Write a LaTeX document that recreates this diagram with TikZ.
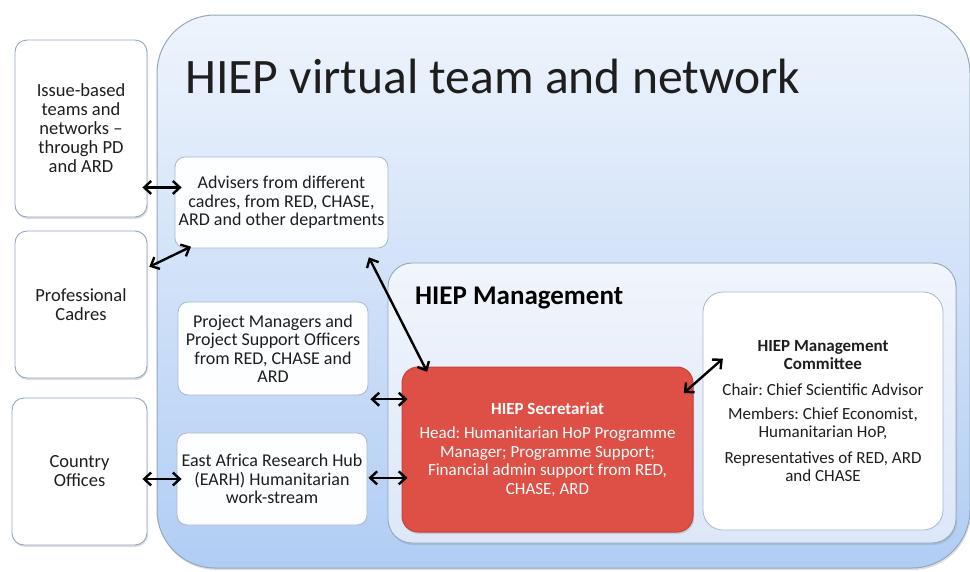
\documentclass[tikz,border=0pt]{standalone}
\usepackage{fontspec}
\setmainfont{Carlito}
\usetikzlibrary{arrows.meta,shadows}
\frenchspacing

\definecolor{netblue}{HTML}{B1CDF4}
\definecolor{netpale}{HTML}{EEF4FC}
\definecolor{mgmtpale}{HTML}{F1F5FC}
\definecolor{mgmtblue}{HTML}{DCE7F8}
\definecolor{secred}{HTML}{DE4F45}
\definecolor{secedge}{HTML}{C3433B}
\definecolor{boxedge}{HTML}{93A6C0}
\definecolor{inktext}{HTML}{1E1E1E}

\newcommand{\hiephead}[1]{{\bfseries\fontsize{17}{18}\selectfont #1}}

\tikzset{
  softshadow/.style={drop shadow={opacity=0.25,shadow xshift=1pt,shadow yshift=-2pt}},
  sidebox/.style={draw=boxedge,fill=white,rounded corners=12pt,line width=0.9pt,
    align=center,inner sep=0pt,text=inktext,font=\fontsize{18.5}{19}\selectfont,softshadow},
  teambox/.style={draw=boxedge!80,fill=white!88!netpale,rounded corners=10pt,line width=0.8pt,
    align=center,inner sep=0pt,text=inktext,font=\fontsize{18}{18.5}\selectfont},
  dbl/.style={{Straight Barb[length=7pt,width=13pt]}-{Straight Barb[length=7pt,width=13pt]},
    line width=2.4pt,black},
}

\begin{document}
\begin{tikzpicture}[x=1pt,y=-1pt]
  \useasboundingbox (0,0) rectangle (970,571);
  % virtual team and network
  \node (vteam) at (563.5,291.5) [draw=boxedge,line width=1pt,rounded corners=58pt,
    top color=netpale,bottom color=netblue,minimum width=813pt,minimum height=553pt,
    inner sep=0pt,softshadow] {};
  \node (vtitle) at (185,93) [anchor=base west,inner sep=0pt,text=inktext,
    font=\fontsize{49.6}{56}\selectfont] {HIEP virtual team and network};

  % outside the network
  \node (issue) at (81,128.5) [sidebox,minimum width=132pt,minimum height=177pt]
    {Issue-based\\teams and\\networks --\\through PD\\and ARD};
  \node (prof) at (81,304.5) [sidebox,minimum width=132pt,minimum height=147pt]
    {Professional\\Cadres};
  \node (country) at (79.5,471.5) [sidebox,minimum width=135pt,minimum height=147pt]
    {Country\\Offices};

  % advisers and project staff
  \node (adv) at (281.5,202.5) [teambox,minimum width=213pt,minimum height=91pt]
    {Advisers from different\\cadres, from RED, CHASE,\\ARD and other departments};
  \node (pm) at (273,348.5) [teambox,minimum width=190pt,minimum height=93pt]
    {Project Managers and\\Project Support Officers\\from RED, CHASE and\\ARD};
  \node (earh) at (272,479) [teambox,minimum width=190pt,minimum height=92pt]
    {East Africa Research Hub\\(EARH) Humanitarian\\work-stream};

  % management
  \node (mgmt) at (672,403) [draw=boxedge,line width=0.9pt,rounded corners=24pt,
    top color=mgmtpale,bottom color=mgmtblue,minimum width=568pt,minimum height=280pt,
    inner sep=0pt,softshadow] {};
  \node (mgmttitle) at (415,304) [anchor=base west,inner sep=0pt,text=black,
    font=\bfseries\fontsize{27}{30}\selectfont] {HIEP Management};
  \node (sec) at (547.5,449.5) [draw=secedge,fill=secred,line width=1pt,rounded corners=16pt,
    minimum width=291pt,minimum height=165pt,inner sep=0pt,align=center,text=white,
    font=\fontsize{17}{18.5}\selectfont,softshadow]
    {\hiephead{HIEP Secretariat}\\[6pt]
     Head: Humanitarian HoP Programme\\Manager; Programme Support;\\
     Financial admin support from RED,\\CHASE, ARD};
  \node (com) at (823,411) [draw=boxedge!80,fill=white,line width=0.8pt,rounded corners=20pt,
    minimum width=240pt,minimum height=238pt,inner sep=0pt,align=center,text=inktext,
    font=\fontsize{17}{18}\selectfont]
    {\hiephead{HIEP Management}\\\hiephead{Committee}\\[8pt]
     Chair: Chief Scientific Advisor\\[6pt]
     Members: Chief Economist,\\Humanitarian HoP,\\[8pt]
     Representatives of RED, ARD\\and CHASE};

  % links
  \draw[dbl,shorten <=-5pt,shorten >=-7pt] (issue.east |- adv.172) -- (adv.172);
  \draw[dbl,shorten <=2pt,shorten >=-4pt] (prof.29) -- (adv.206);
  \draw[dbl,shorten <=-5pt,shorten >=-5pt] (country.east |- earh.west) -- (earh.west);
  \draw[dbl,shorten <=10pt,shorten >=-6pt] (adv.-29) -- (sec.146);
  \draw[dbl,shorten <=2pt,shorten >=-6pt] (sec.161 -| pm.east) -- (sec.161);
  \draw[dbl,shorten <=1pt,shorten >=-6pt] (sec.191 -| earh.east) -- (sec.191);
  \draw[dbl,shorten <=-13pt,shorten >=-27pt] (sec.24) -- (com.164);
\end{tikzpicture}
\end{document}
